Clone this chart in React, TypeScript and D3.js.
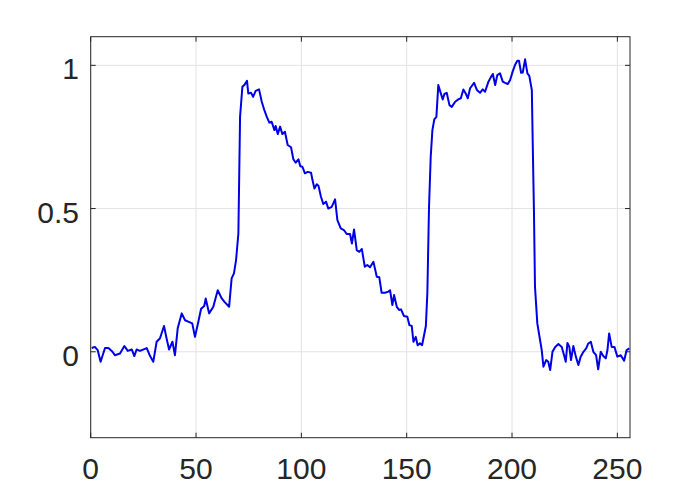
import React from "react";
import * as d3 from "d3";

const xTicks = [0, 50, 100, 150, 200, 250];
const yTicks = [0, 0.5, 1];
const yTickLabels = ["0", "0.5", "1"];

const xs = [0.5,2,3.3,4.7,6.8,8.4,10,11.5,13.9,16,17.6,19.5,20.7,21.8,23.4,26.6,28.2,29.7,31.3,32.9,34.8,36,37.2,38.8,40,41.3,43.2,44.8,46.3,48.2,49.5,51.1,52.4,53.9,54.6,56.2,58.2,60.3,62.2,63.4,65.7,66.9,68,69,70.1,70.9,72,72.9,74.2,74.8,76.1,77.1,78.3,79.9,81.2,82.4,83.6,84.8,85.9,87.2,87.8,88.8,89.9,91,92.2,93.5,95.1,96.2,97.3,98.6,99.5,100.5,101.7,103,104.6,105.2,106.2,107.3,108.1,109.3,110.4,111.7,112.8,114.4,116,117.1,118.7,120.2,121.5,123.1,124,125,126.3,127.5,128.7,130.1,131.3,132.6,134.2,135.8,137,138.1,139.7,141.3,142.1,143.2,144,145.3,146.4,147.3,148.7,150.3,151.3,152.4,153.2,154.3,155.2,156.3,157.3,159.1,159.8,160.6,161.4,162.2,163.1,164.1,165,166.2,167.1,167.9,169,170.3,171.4,173,174.5,175.7,176.9,178,179,180.1,182,183.3,184.8,186.1,187.2,188.8,189.9,190.9,192,193,194.3,195.6,196.7,198,199.1,200.3,201.4,202.5,203.3,204.3,205.1,206.2,207.3,208.2,209.4,209.8,210.4,210.9,212,213.3,214.1,214.9,216.2,217.2,218.1,219.2,220.5,222,223.6,224.7,225.5,226.3,227.2,228,229.1,230.3,231.5,232.6,233.9,235.2,236.2,237.4,238.6,239.9,240.9,242.1,243.3,244.5,245.3,246.1,247.3,248.6,250,251.6,253.2,254.4,255.7];

const ys = [0.013,0.017,0.006,-0.035,0.013,0.013,0.003,-0.012,-0.006,0.02,0.003,0.008,-0.015,0.008,0.003,0.013,-0.015,-0.035,0.035,0.047,0.09,0.047,0.008,0.035,-0.012,0.082,0.134,0.11,0.105,0.099,0.052,0.105,0.15,0.16,0.186,0.134,0.157,0.215,0.186,0.175,0.157,0.256,0.274,0.32,0.413,0.82,0.925,0.931,0.946,0.902,0.904,0.89,0.911,0.916,0.873,0.844,0.82,0.8,0.803,0.774,0.788,0.76,0.786,0.76,0.768,0.722,0.714,0.672,0.66,0.672,0.648,0.646,0.623,0.628,0.625,0.602,0.57,0.585,0.58,0.541,0.516,0.524,0.5,0.506,0.532,0.46,0.431,0.425,0.411,0.411,0.378,0.427,0.355,0.349,0.359,0.297,0.303,0.295,0.314,0.262,0.26,0.206,0.206,0.21,0.215,0.163,0.198,0.157,0.146,0.148,0.125,0.122,0.093,0.09,0.035,0.052,0.023,0.03,0.023,0.09,0.204,0.506,0.681,0.774,0.811,0.82,0.931,0.902,0.881,0.9,0.904,0.861,0.855,0.873,0.881,0.885,0.916,0.902,0.885,0.92,0.939,0.914,0.904,0.916,0.908,0.943,0.958,0.97,0.931,0.966,0.972,0.943,0.939,0.935,0.949,0.978,1.001,1.016,1.016,0.974,0.975,1.021,0.972,0.963,0.914,0.739,0.495,0.227,0.099,0.041,0.006,-0.052,-0.029,-0.035,-0.064,0,0.017,0.027,0.017,-0.012,-0.035,0.031,0.017,-0.029,0.02,-0.017,-0.046,-0.017,0,0.012,0.029,0.035,0,-0.012,-0.061,0,-0.015,-0.023,0.006,0.064,0.017,0.017,-0.017,-0.012,-0.031,0.006,0.012];

const W = 696;
const H = 492;
const left = 90.7;
const right = 630;
const top = 36.7;
const bottom = 437.7;

export default function App() {
  const x = d3.scaleLinear().domain([0, 256]).range([left, right]);
  const y = d3.scaleLinear().domain([-0.3, 1.1]).range([bottom, top]);
  const pts: [number, number][] = xs.map((v, i) => [v, ys[i]]);
  const line = d3
    .line<[number, number]>()
    .x((d) => x(d[0]))
    .y((d) => y(d[1]));
  const axisColor = "#262626";
  const gridColor = "#e3e3e3";
  const font = "'Liberation Sans', Arial, Helvetica, sans-serif";
  const tl = 5;
  return (
    <svg
      width={W}
      height={H}
      style={{ position: "absolute", left: 0, top: 0, background: "#fff" }}
    >
      <rect x={0} y={0} width={W} height={H} fill="#fff" />
      <defs>
        <clipPath id="plotclip">
          <rect x={left} y={top} width={right - left} height={bottom - top} />
        </clipPath>
      </defs>
      {xTicks.map((t) => (
        <line
          key={"gx" + t}
          x1={x(t)}
          x2={x(t)}
          y1={top}
          y2={bottom}
          stroke={gridColor}
          strokeWidth={1}
        />
      ))}
      {yTicks.map((t) => (
        <line
          key={"gy" + t}
          x1={left}
          x2={right}
          y1={y(t)}
          y2={y(t)}
          stroke={gridColor}
          strokeWidth={1}
        />
      ))}
      <path
        d={line(pts) || ""}
        fill="none"
        stroke="#0000e6"
        strokeWidth={2}
        strokeLinejoin="round"
        clipPath="url(#plotclip)"
      />
      <rect
        x={left}
        y={top}
        width={right - left}
        height={bottom - top}
        fill="none"
        stroke={axisColor}
        strokeWidth={1}
      />
      {xTicks.map((t) => (
        <g key={"tx" + t}>
          <line x1={x(t)} x2={x(t)} y1={bottom} y2={bottom - tl} stroke={axisColor} />
          <line x1={x(t)} x2={x(t)} y1={top} y2={top + tl} stroke={axisColor} />
          <text
            x={x(t)}
            y={bottom + 41}
            textAnchor="middle"
            fontFamily={font}
            fontSize={30}
            fill={axisColor}
          >
            {t}
          </text>
        </g>
      ))}
      {yTicks.map((t, i) => (
        <g key={"ty" + t}>
          <line x1={left} x2={left + tl} y1={y(t)} y2={y(t)} stroke={axisColor} />
          <line x1={right} x2={right - tl} y1={y(t)} y2={y(t)} stroke={axisColor} />
          <text
            x={79}
            y={y(t) + 14}
            textAnchor="end"
            fontFamily={font}
            fontSize={30}
            fill={axisColor}
          >
            {yTickLabels[i]}
          </text>
        </g>
      ))}
    </svg>
  );
}
